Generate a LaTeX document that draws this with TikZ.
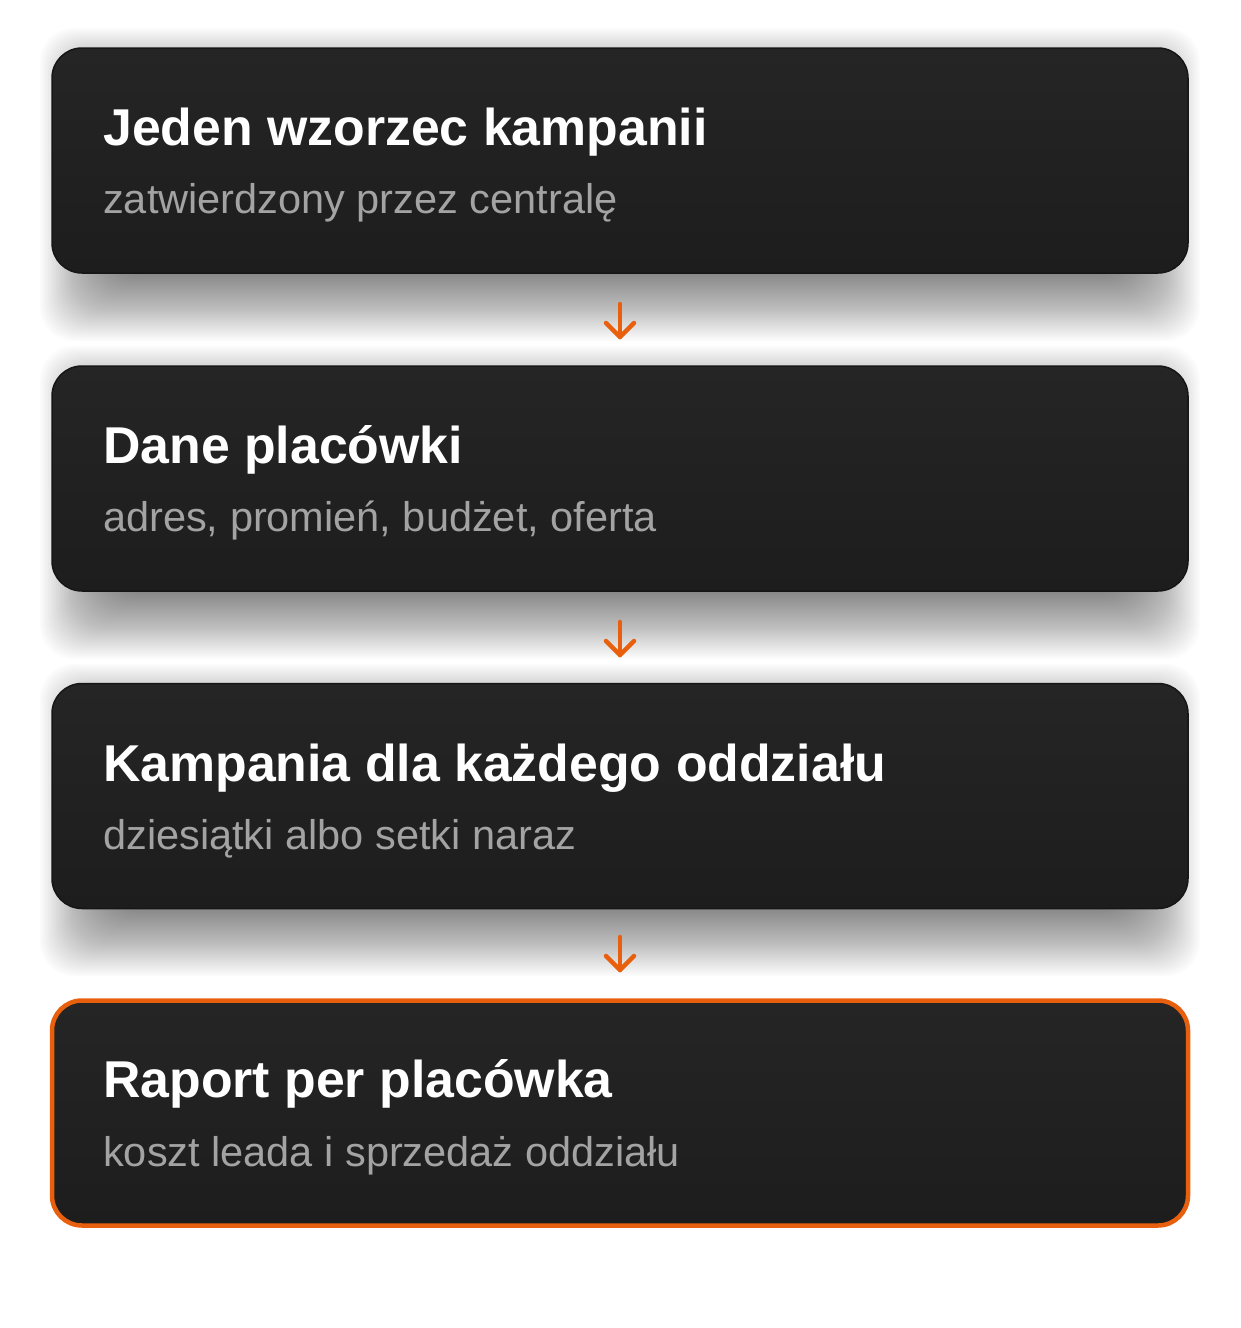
\documentclass[tikz,border=0pt]{standalone}
\usepackage{fontspec}
\setmainfont{Liberation Sans}
\usetikzlibrary{calc}
\definecolor{orng}{HTML}{E8600E}
\definecolor{boxtop}{HTML}{252525}
\definecolor{boxbot}{HTML}{1D1D1D}
\definecolor{boxline}{HTML}{161616}
\definecolor{subgray}{HTML}{A3A3A3}
\tikzset{
  card/.style={rounded corners=30pt, minimum width=1136pt, minimum height=225pt, inner sep=0pt,
    top color=boxtop, bottom color=boxbot, draw=boxline, line width=1.5pt},
  hicard/.style={card, draw=orng, line width=4.5pt},
  ttl/.style={anchor=base west, inner sep=0pt, text=white, font=\fontsize{51.8}{60}\selectfont\bfseries},
  sub/.style={anchor=base west, inner sep=0pt, text=subgray, font=\fontsize{41.5}{48}\selectfont},
  flow/.style={draw=orng, line width=4.5pt, line cap=round, line join=round}
}
\newcommand{\cardshadow}[2]{%
  \foreach \i in {1,...,40}{
    \fill[black, opacity=0.016, rounded corners=34pt]
      ($(#1)+({68-\i*2},{60-\i*2})$) rectangle ($(#2)+({-68+\i*2},{-12+\i*2})$);
  }}
\begin{document}
\begin{tikzpicture}[x=1pt,y=-1pt]
\useasboundingbox (0,0) rectangle (1240,1328);
\fill[white] (0,0) rectangle (1240,1328);
% shadows
\cardshadow{52,48}{1188,273}
\cardshadow{52,366}{1188,591}
\cardshadow{52,684}{1188,908}
% cards
\node[card] (c1) at (620,160.5) {};
\node[card] (c2) at (620,478.5) {};
\node[card] (c3) at (620,796) {};
\node[hicard] (c4) at (620,1113) {};
% texts
\node[ttl] (t1) at (103,145) {Jeden wzorzec kampanii};
\node[sub] (s1) at (103,213) {zatwierdzony przez centralę};
\node[ttl] (t2) at (103,463) {Dane placówki};
\node[sub] (s2) at (103,531) {adres, promień, budżet, oferta};
\node[ttl] (t3) at (103,781) {Kampania dla każdego oddziału};
\node[sub] (s3) at (103,849) {dziesiątki albo setki naraz};
\node[ttl] (t4) at (103,1097) {Raport per placówka};
\node[sub] (s4) at (103,1166) {koszt leada i sprzedaż oddziału};
% arrows
\foreach \n/\y in {a/304, b/622, c/937}{
  \coordinate (\n s) at (620,\y);
  \coordinate (\n e) at (620,\y+33);
  \coordinate (\n l) at ($(\n e)+(-14,-14)$);
  \coordinate (\n r) at ($(\n e)+(14,-14)$);
  \draw[flow] (\n s) -- (\n e);
  \draw[flow] (\n l) -- (\n e) -- (\n r);
}
\end{tikzpicture}
\end{document}
